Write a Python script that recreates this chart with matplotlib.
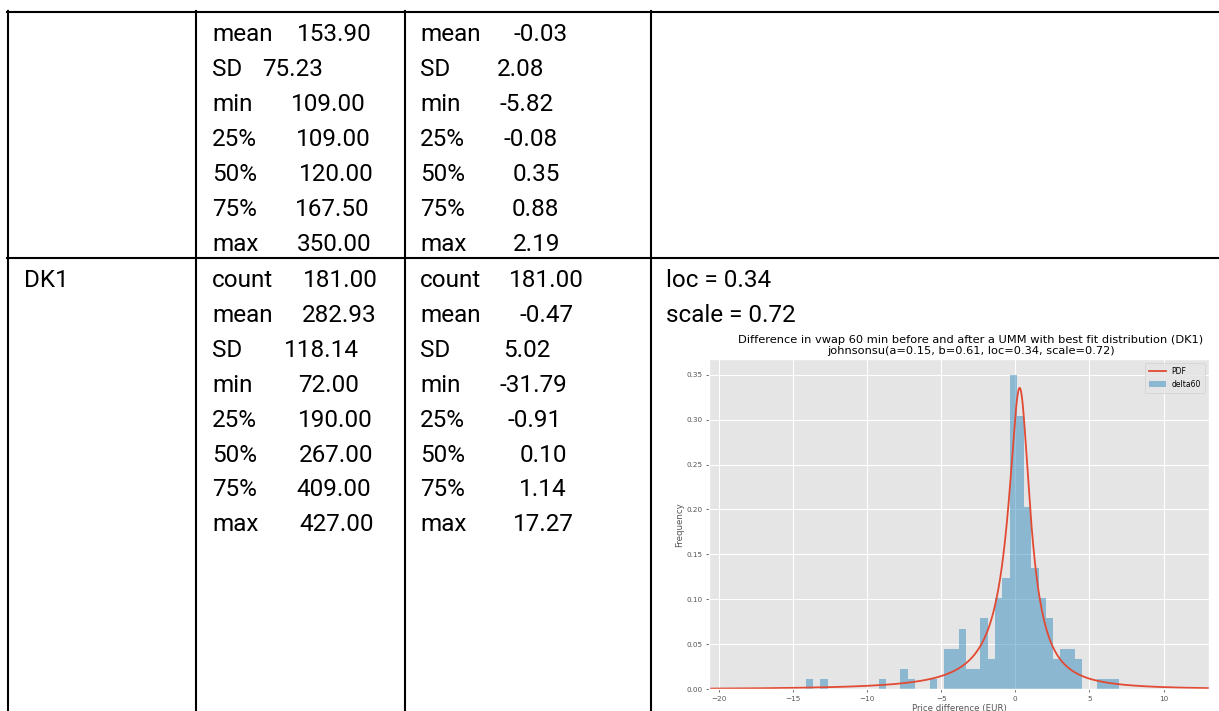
import numpy as np
import matplotlib
matplotlib.use("Agg")
import matplotlib.pyplot as plt
from matplotlib.lines import Line2D

plt.style.use("ggplot")

# ---- table data ----
top_labels = ["mean", "SD", "min", "25%", "50%", "75%", "max"]
top_price = ["153.90", "75.23", "109.00", "109.00", "120.00", "167.50", "350.00"]
top_delta = ["-0.03", "2.08", "-5.82", "-0.08", "0.35", "0.88", "2.19"]

dk1_labels = ["count", "mean", "SD", "min", "25%", "50%", "75%", "max"]
dk1_price = ["181.00", "282.93", "118.14", "72.00", "190.00", "267.00", "409.00", "427.00"]
dk1_delta = ["181.00", "-0.47", "5.02", "-31.79", "-0.91", "0.10", "1.14", "17.27"]

fit_text = ["loc = 0.34", "scale = 0.72"]

# ---- histogram data (delta60, DK1) ----
n_obs = 181
data_min, data_max, n_bins = -31.79, 17.27, 100
bin_index = [0, 36, 38, 46, 49, 50, 53, 55, 56, 57, 58, 59, 60, 61, 62, 63, 64,
             65, 66, 67, 68, 69, 70, 71, 72, 73, 76, 77, 78, 99]
bin_count = [1, 1, 1, 1, 2, 1, 1, 4, 4, 6, 2, 2, 7, 3, 9, 11, 31,
             27, 18, 12, 9, 7, 3, 4, 4, 3, 1, 1, 1, 1]

# johnsonsu fit
ja, jb, jloc, jscale = 0.15, 0.61, 0.34, 0.72

W, H = 1219, 711
fig = plt.figure(figsize=(W / 100, H / 100), dpi=100)
fig.patch.set_facecolor("white")


def fx(px):
    return px / W


def fy(py):
    return 1 - py / H


# table grid
for y in [12, 257.5]:
    fig.add_artist(Line2D([fx(7), fx(W)], [fy(y), fy(y)], color="black", lw=1.5))
for x in [8, 196, 405, 651]:
    fig.add_artist(Line2D([fx(x), fx(x)], [fy(11), fy(H)], color="black", lw=1.5))

font = dict(family="Roboto", fontsize=17.5, color="black", va="baseline")

top_rows = [41 + 35 * i for i in range(len(top_labels))]
top_price_x = [297, 262, 291, 296, 299, 295, 297]
top_delta_x = [513, 497, 499, 504, 513, 512, 513]
for i, lab in enumerate(top_labels):
    fig.text(fx(212), fy(top_rows[i]), lab, **font)
    fig.text(fx(top_price_x[i]), fy(top_rows[i]), top_price[i], **font)
    fig.text(fx(420), fy(top_rows[i]), lab, **font)
    fig.text(fx(top_delta_x[i]), fy(top_rows[i]), top_delta[i], **font)

dk_rows = [287 + 34.9 * i for i in range(len(dk1_labels))]
dk_price_x = [303, 302, 284, 298, 298, 299, 296, 299]
dk_delta_x = [509, 520, 503, 500, 507, 520, 519, 513]
fig.text(fx(24), fy(dk_rows[0]), "DK1", **font)
for i, lab in enumerate(dk1_labels):
    fig.text(fx(212), fy(dk_rows[i]), lab, **font)
    fig.text(fx(dk_price_x[i]), fy(dk_rows[i]), dk1_price[i], **font)
    fig.text(fx(420), fy(dk_rows[i]), lab, **font)
    fig.text(fx(dk_delta_x[i]), fy(dk_rows[i]), dk1_delta[i], **font)
for i, t in enumerate(fit_text):
    fig.text(fx(666), fy(dk_rows[i]), t, **font)

# ---- chart ----
ax = fig.add_axes([fx(709.3), fy(689.3), (1208.7 - 709.3) / W, (689.3 - 359.3) / H])

xs = np.linspace(-21, 14, 2000)
z = (xs - jloc) / jscale
pdf = jb / np.sqrt(z ** 2 + 1) * np.exp(-0.5 * (ja + jb * np.arcsinh(z)) ** 2) / np.sqrt(2 * np.pi) / jscale
ax.plot(xs, pdf, color="#E24A33", lw=1.3, label="PDF")

edges = np.linspace(data_min, data_max, n_bins + 1)
width = edges[1] - edges[0]
heights = np.array(bin_count) / (n_obs * width)
lefts = edges[bin_index]
ax.hist(lefts + width / 2, bins=edges, weights=heights, color="#348ABD",
        alpha=0.5, label="delta60")

ax.set_xlim(-20.65, 13.05)
ax.set_ylim(0, 0.367)
ax.set_yticks([0, 0.05, 0.10, 0.15, 0.20, 0.25, 0.30, 0.35])
ax.tick_params(labelsize=5.2, length=2.5, width=0.6, pad=2)
ax.set_title("Difference in vwap 60 min before and after a UMM with best fit distribution (DK1)\n"
             "johnsonsu(a=0.15, b=0.61, loc=0.34, scale=0.72)", fontsize=8.2, pad=4,
             linespacing=1.05, x=0.524)
ax.set_ylabel("Frequency", fontsize=6.2, labelpad=2)
ax.set_xlabel("Price difference (EUR)", fontsize=6.2, labelpad=2)
ax.legend(fontsize=5.5, loc="upper right", borderpad=0.5, handlelength=2.2)

fig.savefig("out.png", dpi=100)
